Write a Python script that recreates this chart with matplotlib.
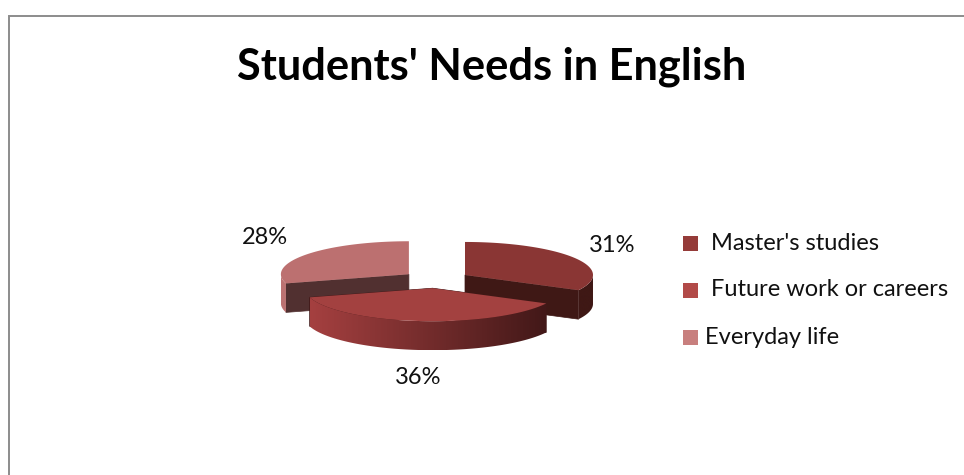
"""Draw the exploded 3D-style pie of students' needs in English."""

import matplotlib

matplotlib.use("Agg")
import matplotlib.pyplot as plt
import numpy as np
from matplotlib.colors import LinearSegmentedColormap
from matplotlib.patches import Polygon, Rectangle

TITLE = "Students' Needs in English"
CATEGORIES = ["Master's studies", "Future work or careers", "Everyday life"]
PERCENTS = [31, 36, 28]

WIDTH, HEIGHT = 964, 475
CENTER = (436.0, 279.5)
RADIUS_X, RADIUS_Y = 128.0, 33.0
DEPTH = 29.0
EXPLODE = 0.265

TOP_COLORS = ["#8A3634", "#A34140", "#BC7070"]
CUT_COLORS = ["#3F1815", "#421818", "#513030"]
# Outer wall shading, left colour then right colour
WALL_RAMPS = [
    ("#3F1815", "#3F1815"),
    ("#A54040", "#421818"),
    ("#BC7272", "#BC7272"),
]
LEGEND_COLORS = ["#953B39", "#B24A48", "#C87F7E"]

LABEL_XY = [(612, 245), (265, 238), (418, 378)]
LABEL_ORDER = [0, 2, 1]
LEGEND_Y = [243, 290, 337]
LEGEND_TEXT_X = [711, 711, 705]


def rim(center, start, stop, count=200):
    """Return points on the elliptical rim, angles clockwise from 12 o'clock."""
    angles = np.linspace(start, stop, count)
    xs = center[0] + RADIUS_X * np.sin(angles)
    ys = center[1] - RADIUS_Y * np.cos(angles)
    return angles, np.column_stack([xs, ys])


def draw_wall(ax, index, points):
    """Fill the outer wall below the given rim points with a horizontal gradient."""
    drop = np.array([0.0, DEPTH])
    outline = np.vstack([points, (points + drop)[::-1]])
    patch = Polygon(outline, closed=True, facecolor="none", edgecolor="none")
    ax.add_patch(patch)
    cmap = LinearSegmentedColormap.from_list("wall", WALL_RAMPS[index])
    image = ax.imshow(
        np.linspace(0.0, 1.0, 256).reshape(1, -1),
        cmap=cmap,
        vmin=0.0,
        vmax=1.0,
        aspect="auto",
        interpolation="bilinear",
        zorder=1,
        extent=(outline[:, 0].min(), outline[:, 0].max(), outline[:, 1].max(), outline[:, 1].min()),
    )
    image.set_clip_path(patch)


def draw_slice(ax, index, start, stop):
    """Draw the cut face, the outer wall and the top of one pie slice."""
    middle = (start + stop) / 2
    center = (
        CENTER[0] + EXPLODE * RADIUS_X * np.sin(middle),
        CENTER[1] - EXPLODE * RADIUS_Y * np.cos(middle),
    )
    angles, points = rim(center, start, stop)
    drop = np.array([0.0, DEPTH])

    # Only the cut edge that turns towards the viewer can be seen
    for edge in (points[0], points[-1]):
        if edge[1] > center[1]:
            face = [center, edge, edge + drop, np.array(center) + drop]
            ax.add_patch(Polygon(face, closed=True, color=CUT_COLORS[index], lw=0.5))

    front = (angles > np.pi / 2) & (angles < 3 * np.pi / 2)
    if front.sum() > 1:
        draw_wall(ax, index, points[front])

    top = np.vstack([center, points])
    ax.add_patch(Polygon(top, closed=True, color=TOP_COLORS[index], lw=0))


def main() -> None:
    plt.rcParams["font.family"] = ["Lato", "DejaVu Sans"]
    fig = plt.figure(figsize=(WIDTH / 100, HEIGHT / 100), dpi=100)
    ax = fig.add_axes([0, 0, 1, 1])

    # Chart frame, open at the right and the bottom of the canvas
    ax.plot([9, 9, WIDTH], [HEIGHT, 16, 16], color="#8C8C8C", lw=1.4, solid_joinstyle="miter")

    ax.text(492, 67, TITLE, ha="center", va="center", fontsize=31.2, fontweight="bold", color="black")

    fractions = np.array(PERCENTS, dtype=float) / sum(PERCENTS)
    bounds = np.concatenate([[0.0], np.cumsum(fractions)]) * 2 * np.pi

    # Back slices first so the front one overlaps them
    for index in (2, 0, 1):
        draw_slice(ax, index, bounds[index], bounds[index + 1])

    for index, (x, y) in zip(LABEL_ORDER, LABEL_XY):
        ax.text(x, y, f"{PERCENTS[index]}%", ha="center", va="center", fontsize=17, color="#111111")

    for label, color, y, text_x in zip(CATEGORIES, LEGEND_COLORS, LEGEND_Y, LEGEND_TEXT_X):
        ax.add_patch(Rectangle((683, y - 7.5), 15, 15, color=color, lw=0))
        ax.text(text_x, y, label, ha="left", va="center", fontsize=17, color="#111111")

    # imshow resets the limits, so they are fixed once everything is drawn
    ax.set_xlim(0, WIDTH)
    ax.set_ylim(HEIGHT, 0)
    ax.axis("off")

    fig.savefig("out.png", dpi=100)


if __name__ == "__main__":
    main()
